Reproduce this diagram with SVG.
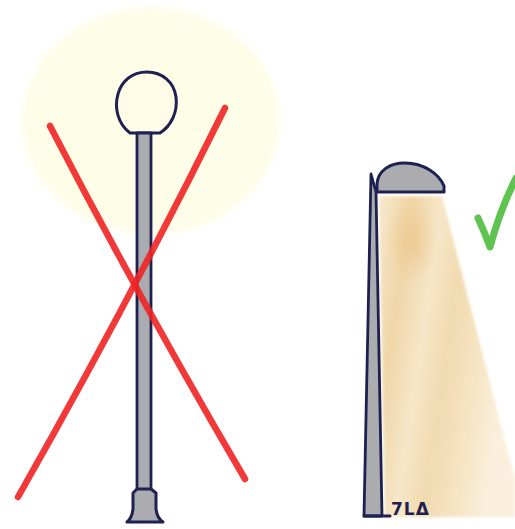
<svg xmlns="http://www.w3.org/2000/svg" width="515" height="529" viewBox="0 0 515 529">
  <defs>
    <style>
      .ink { stroke: #1e2150; stroke-linejoin: round; stroke-linecap: round; }
      .metal { fill: #abacb0; }
      .red { fill: none; stroke: #ef2323; stroke-width: 6.5; stroke-linecap: round; opacity: 0.9; }
    </style>
    <filter id="soft" x="-20%" y="-20%" width="140%" height="140%">
      <feGaussianBlur stdDeviation="3"/>
    </filter>
    <filter id="softer" x="-10%" y="-10%" width="120%" height="120%">
      <feGaussianBlur stdDeviation="1.6"/>
    </filter>
    <linearGradient id="beamFill" x1="0" y1="0" x2="1" y2="0.35">
      <stop offset="0" stop-color="#f7e8cc"/>
      <stop offset="0.22" stop-color="#f0d6a8"/>
      <stop offset="0.42" stop-color="#f6e6c8"/>
      <stop offset="0.6" stop-color="#f1daaf"/>
      <stop offset="0.8" stop-color="#f6e4c3"/>
      <stop offset="1" stop-color="#faefdc"/>
    </linearGradient>
    <radialGradient id="beamCore" cx="0.5" cy="0.5" r="0.5">
      <stop offset="0" stop-color="#e9c488" stop-opacity="0.7"/>
      <stop offset="1" stop-color="#e9c488" stop-opacity="0"/>
    </radialGradient>
  </defs>

  <rect width="515" height="529" fill="#ffffff"/>

  <!-- globe street lamp with its all-round glow -->
  <g id="globe-lamp">
    <ellipse cx="151" cy="121" rx="129" ry="114" fill="#fefde8" filter="url(#soft)"/>
    <path class="ink" d="M130,133 C118,124 114,108 118,94 C122,80 133,72 147,72 C162,72 174,82 176,97 C178,112 171,126 160,133 Z" fill="#fefce6" stroke-width="3"/>
    <rect class="ink metal" x="137" y="133" width="14" height="357" stroke-width="2.8"/>
    <path class="ink metal" d="M137,489 L133,493 L133,509 Q132,518 127,522 L163,522 Q157,518 156,509 L156,493 L151,489 Z" stroke-width="3"/>
  </g>

  <!-- red cross over the globe lamp -->
  <g id="cross">
    <path class="red" d="M50,126 Q140,300 245,479"/>
    <path class="red" d="M225,108 Q130,300 18,497"/>
  </g>

  <!-- shielded lamp with downward beam -->
  <g id="shielded-lamp">
    <g filter="url(#softer)">
      <path d="M379,196 L442,196 L515,480 L515,517 L385,517 Z" fill="url(#beamFill)"/>
      <ellipse cx="412" cy="240" rx="26" ry="45" fill="url(#beamCore)"/>
    </g>
    <path class="ink metal" d="M371,174 L376,192 L382,516 L364,516 Z" stroke-width="2.8"/>
    <line class="ink" x1="364" y1="516" x2="390" y2="516" stroke-width="3"/>
    <path class="ink metal" d="M377,192 L377,184 C378,171 389,163 405,163 C424,163 439,174 444,186 L444,192 Z" stroke-width="3"/>
  </g>

  <!-- green tick -->
  <g id="check">
    <path d="M478,218 Q485,233 490,247 Q500,210 516,178" fill="none" stroke="#5ec44f" stroke-width="7" stroke-linecap="round" stroke-linejoin="round"/>
  </g>

  <!-- artist signature -->
  <g id="signature">
    <text x="391" y="515" font-family="'DejaVu Sans', sans-serif" font-size="17" font-weight="bold" letter-spacing="1" fill="#1e2150">7LΔ</text>
  </g>
</svg>
